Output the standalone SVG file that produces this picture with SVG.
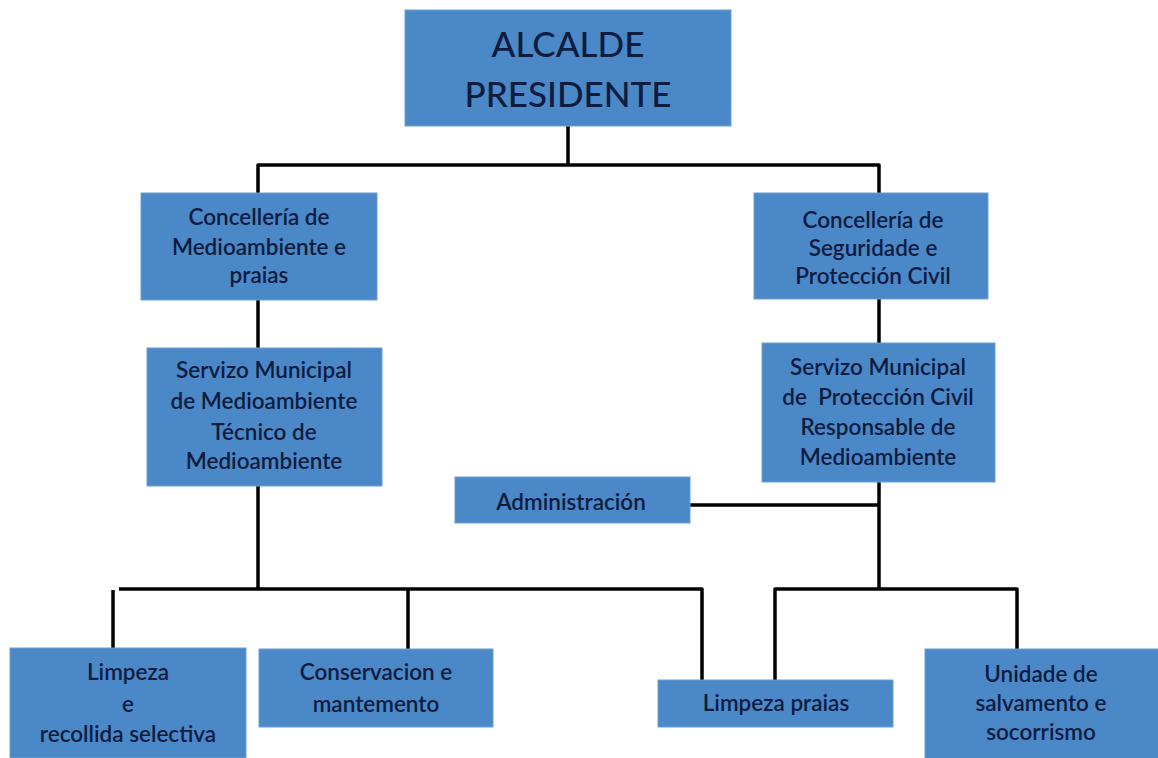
<svg xmlns="http://www.w3.org/2000/svg" width="1158" height="758" viewBox="0 0 1158 758">
<style>
.box{fill:#4a88c7;stroke:#6c9fd4;stroke-width:1}
.t{font-family:Lato,"Open Sans","Liberation Sans",sans-serif;fill:#0e1c40;text-anchor:middle;font-size:22.5px;font-weight:600}
.big{font-size:35px;font-weight:500}
.c{fill:none;stroke:#000;stroke-width:3.5;stroke-linejoin:round;stroke-linecap:butt}
</style>
<rect width="1158" height="758" fill="#fff"/>
<g id="connectors">
<path class="c" d="M568,126 V165"/>
<path class="c" d="M258,193 V165 H879 V193"/>
<path class="c" d="M258,300 V348"/>
<path class="c" d="M879,299 V343"/>
<path class="c" d="M258,486 V589"/>
<path class="c" d="M113,648 V590 M119,589 H702 V680"/>
<path class="c" d="M408,589 V649"/>
<path class="c" d="M879,482 V589"/>
<path class="c" d="M690,505 H879"/>
<path class="c" d="M775,680 V589 H1017 V649"/>
</g>
<g id="alcalde">
<rect class="box" x="405" y="10" width="326" height="116"/>
<text class="t big" x="568" y="57">ALCALDE</text>
<text class="t big" x="568" y="107">PRESIDENTE</text>
</g>
<g id="concelleria-medioambiente">
<rect class="box" x="141" y="193" width="236" height="107"/>
<text class="t" x="259" y="225">Concellería de</text>
<text class="t" x="259" y="255">Medioambiente e</text>
<text class="t" x="259" y="283">praias</text>
</g>
<g id="concelleria-seguridade">
<rect class="box" x="754" y="193" width="234" height="106"/>
<text class="t" x="873" y="228">Concellería de</text>
<text class="t" x="873" y="256">Seguridade e</text>
<text class="t" x="873" y="284">Protección Civil</text>
</g>
<g id="servizo-medioambiente">
<rect class="box" x="147" y="348" width="235" height="138"/>
<text class="t" x="264" y="378">Servizo Municipal</text>
<text class="t" x="264" y="409">de Medioambiente</text>
<text class="t" x="264" y="440">Técnico de</text>
<text class="t" x="264" y="469">Medioambiente</text>
</g>
<g id="servizo-proteccion">
<rect class="box" x="762" y="343" width="233" height="139"/>
<text class="t" x="878" y="375">Servizo Municipal</text>
<text class="t" x="878" y="405" xml:space="preserve">de  Protección Civil</text>
<text class="t" x="878" y="435">Responsable de</text>
<text class="t" x="878" y="465">Medioambiente</text>
</g>
<g id="administracion">
<rect class="box" x="455" y="477" width="235" height="46"/>
<text class="t" x="571" y="510">Administración</text>
</g>
<g id="limpeza-recollida">
<rect class="box" x="10" y="648" width="236" height="110"/>
<text class="t" x="128" y="680">Limpeza</text>
<text class="t" x="128" y="712">e</text>
<text class="t" x="128" y="742">recollida selectiva</text>
</g>
<g id="conservacion">
<rect class="box" x="259" y="649" width="234" height="78"/>
<text class="t" x="376" y="680">Conservacion e</text>
<text class="t" x="376" y="712">mantemento</text>
</g>
<g id="limpeza-praias">
<rect class="box" x="658" y="680" width="235" height="47"/>
<text class="t" x="776" y="711">Limpeza praias</text>
</g>
<g id="unidade-salvamento">
<rect class="box" x="925" y="649" width="235" height="112"/>
<text class="t" x="1041" y="682">Unidade de</text>
<text class="t" x="1041" y="711">salvamento e</text>
<text class="t" x="1041" y="740">socorrismo</text>
</g>
</svg>
